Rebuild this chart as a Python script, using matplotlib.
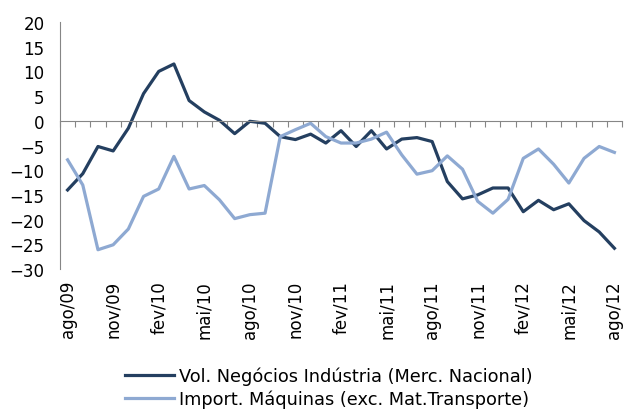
import matplotlib
matplotlib.use('Agg')
import matplotlib.pyplot as plt
import numpy as np

plt.rcParams['font.family'] = ['DejaVu Sans']

months = ['ago/09', 'set/09', 'out/09', 'nov/09', 'dez/09', 'jan/10', 'fev/10', 'mar/10', 'abr/10',
          'mai/10', 'jun/10', 'jul/10', 'ago/10', 'set/10', 'out/10', 'nov/10', 'dez/10', 'jan/11',
          'fev/11', 'mar/11', 'abr/11', 'mai/11', 'jun/11', 'jul/11', 'ago/11', 'set/11', 'out/11',
          'nov/11', 'dez/11', 'jan/12', 'fev/12', 'mar/12', 'abr/12', 'mai/12', 'jun/12', 'jul/12',
          'ago/12']

vol_negocios = [-14.0, -10.7, -5.2, -6.1, -1.5, 5.5, 10.0, 11.5, 4.1, 1.8, 0.1, -2.6, -0.1,
                -0.5, -3.2, -3.8, -2.7, -4.5, -2.0, -5.2, -2.0, -5.7, -3.7, -3.4, -4.2, -12.3,
                -15.8, -15.0, -13.6, -13.6, -18.4, -16.1, -18.0, -16.8, -20.2, -22.5, -25.8]

import_maquinas = [-7.9, -13.0, -26.1, -25.1, -21.9, -15.3, -13.8, -7.2, -13.8, -13.1, -16.0,
                   -19.8, -19.0, -18.7, -3.2, -1.8, -0.5, -3.2, -4.5, -4.5, -3.7, -2.3, -6.9,
                   -10.8, -10.1, -7.1, -9.8, -16.3, -18.7, -15.9, -7.6, -5.7, -8.8, -12.6, -7.6,
                   -5.2, -6.4]

labels = ['Vol. Negócios Indústria (Merc. Nacional)', 'Import. Máquinas (exc. Mat.Transporte)']
colors = ['#243F60', '#8EA9D2']

fig = plt.figure(figsize=(6.25, 4.1), dpi=100)
ax = fig.add_axes([60 / 625, 140 / 410, 562 / 625, 247 / 410])

x = np.arange(len(months))
ax.plot(x, vol_negocios, color=colors[0], lw=2.3, label=labels[0])
ax.plot(x, import_maquinas, color=colors[1], lw=2.3, label=labels[1])

ax.set_xlim(-0.5, len(months) - 0.5)
ax.set_ylim(-30, 20)
ax.set_yticks(np.arange(-30, 21, 5))
ax.tick_params(axis='y', length=0, labelsize=12, pad=11)

for s in ['top', 'right']:
    ax.spines[s].set_visible(False)
ax.spines['left'].set_color('#868686')
ax.spines['bottom'].set_position(('data', 0))
ax.spines['bottom'].set_color('#868686')
ax.set_xticks(np.arange(len(months) + 1) - 0.5)
ax.tick_params(axis='x', direction='out', length=4, color='#868686', labelbottom=False)

sec = ax.secondary_xaxis('bottom')
sec.spines['bottom'].set_visible(False)
sec.set_xticks(x[::3])
sec.set_xticklabels(months[::3], rotation=90)
sec.tick_params(length=0, labelsize=12, pad=8)

fig.legend(loc='center left', bbox_to_anchor=(125 / 625, 1 - 388 / 410), frameon=False,
           fontsize=12.8, handlelength=2.75, handletextpad=0.3, labelspacing=0.25, borderpad=0,
           borderaxespad=0)

fig.savefig('out.png', dpi=100)
